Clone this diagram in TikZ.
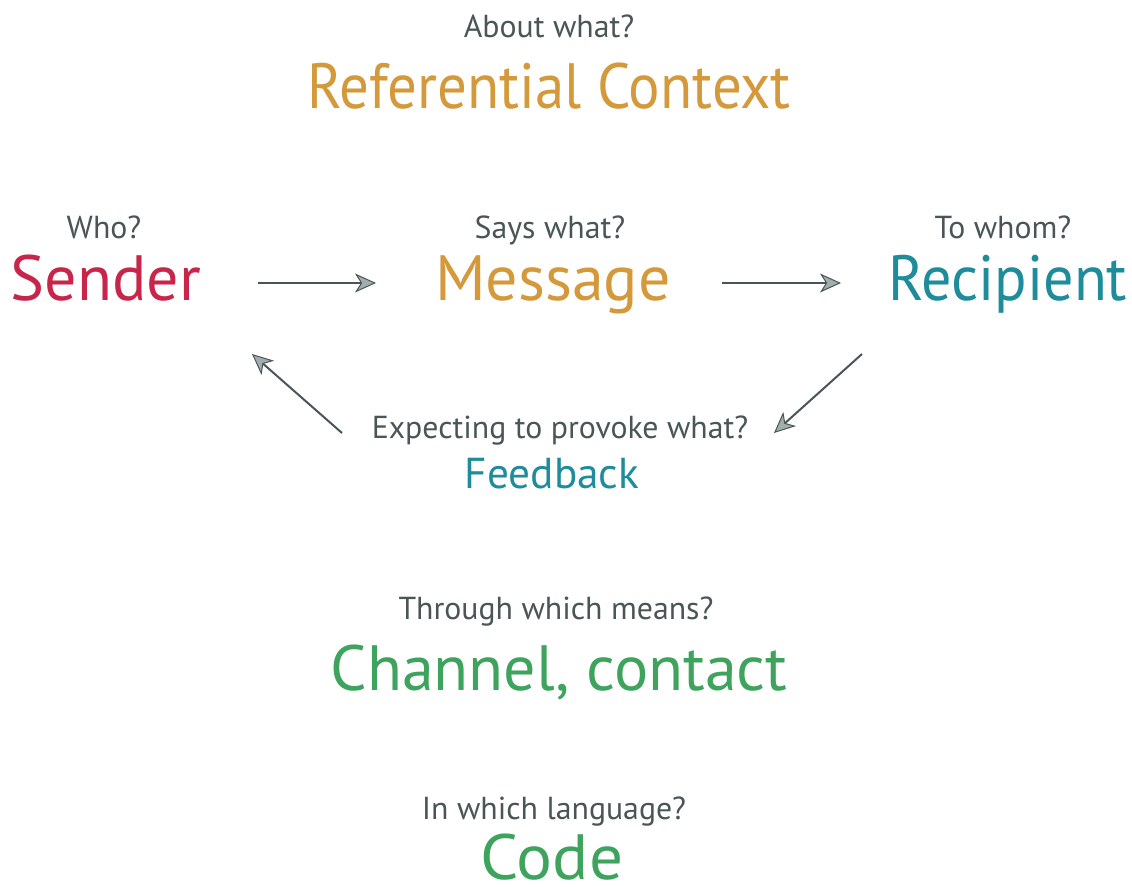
\documentclass[tikz,border=0pt]{standalone}
\usepackage{fontspec}
\setmainfont{PT Sans}
\usetikzlibrary{arrows.meta}
\definecolor{qgray}{HTML}{4A5555}
\definecolor{cred}{HTML}{C8254B}
\definecolor{corange}{HTML}{D4993A}
\definecolor{cteal}{HTML}{1E8C9A}
\definecolor{cgreen}{HTML}{3DA35D}
\definecolor{tipfill}{HTML}{A3ADAD}
\tikzset{
  q/.style={anchor=base, inner sep=0pt, text=qgray, font=\fontsize{31.8}{36}\selectfont},
  big/.style={anchor=base, inner sep=0pt, font=\fontsize{64}{74}\selectfont},
  mid/.style={anchor=base, inner sep=0pt, font=\fontsize{43.3}{50}\selectfont},
  arr/.style={draw=qgray, line width=2pt, -{Stealth[length=21pt, width=19pt, inset=6pt, fill=tipfill, line width=1pt]}}
}
\begin{document}
\begin{tikzpicture}[x=1pt, y=-1pt]
\useasboundingbox (0,0) rectangle (1132,886);
\node[q] (qabout) at (549,37) {About what?};
\node[big, text=corange] (context) at (549,108) {\addfontfeature{FakeStretch=0.92}Referential Context};
\node[q] (qwho) at (104,238) {Who?};
\node[big, text=cred] (sender) at (106,300) {Sender};
\node[q] (qsays) at (550,238) {Says what?};
\node[big, text=corange] (message) at (553,300) {Message};
\node[q] (qwhom) at (1003,238) {To whom?};
\node[big, text=cteal] (recipient) at (1008,300) {\addfontfeature{FakeStretch=0.94}Recipient};
\node[q] (qexp) at (560,438) {Expecting to provoke what?};
\node[mid, text=cteal] (feedback) at (552,488) {Feedback};
\node[q] (qthrough) at (556,619) {Through which means?};
\node[big, text=cgreen] (channel) at (559,690) {Channel, contact};
\node[q] (qin) at (554,819) {In which language?};
\node[big, text=cgreen] (code) at (552,879) {\addfontfeature{FakeStretch=1.05}Code};
\coordinate (a1s) at (258,283);
\coordinate (a1e) at (376,283);
\coordinate (a2s) at (722,283);
\coordinate (a2e) at (841,283);
\coordinate (a3s) at (862,354);
\coordinate (a3e) at (774,433);
\coordinate (a4s) at (342,433);
\coordinate (a4e) at (252,354);
\draw[arr] (a1s) -- (a1e);
\draw[arr] (a2s) -- (a2e);
\draw[arr] (a3s) -- (a3e);
\draw[arr] (a4s) -- (a4e);
\end{tikzpicture}
\end{document}
